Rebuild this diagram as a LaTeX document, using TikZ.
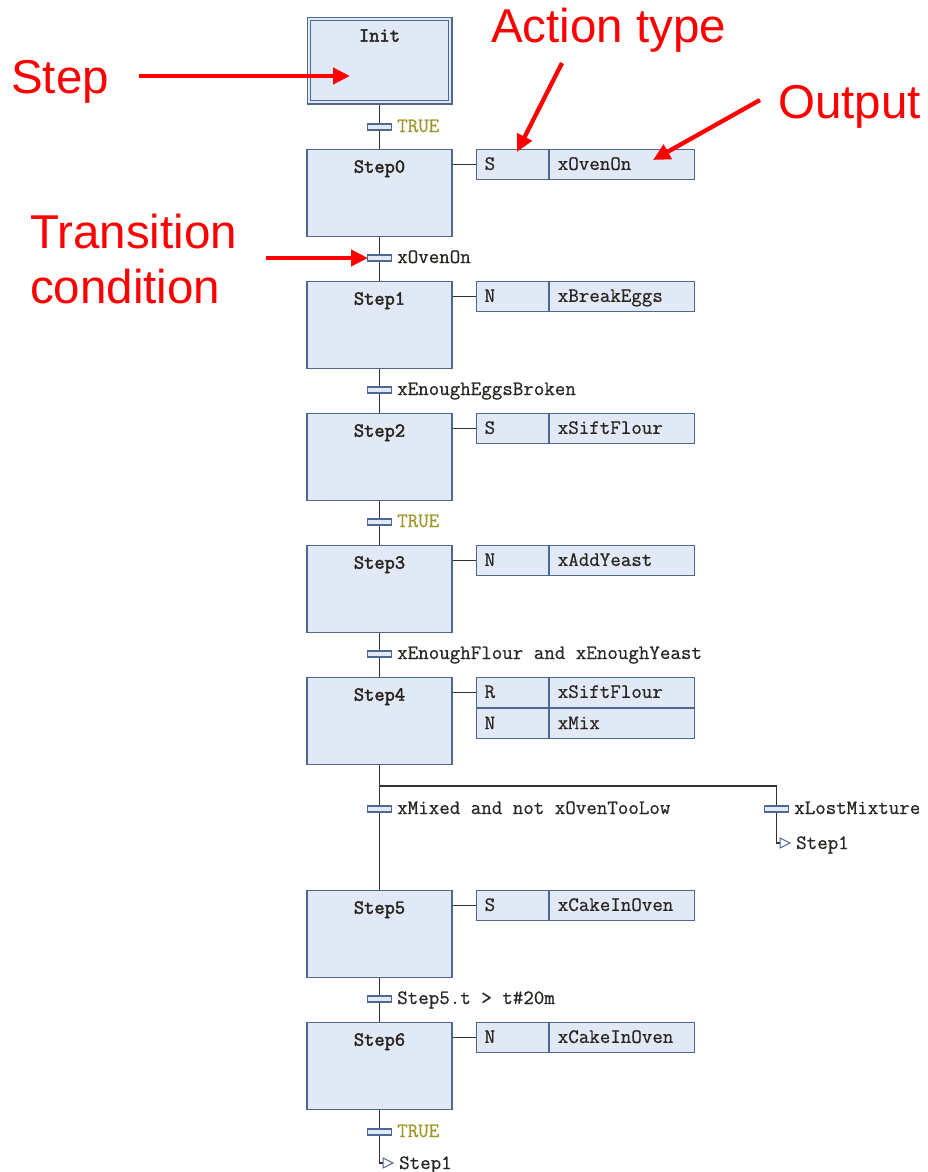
\documentclass[tikz,border=0pt]{standalone}
\usepackage{fontspec}
\newfontfamily\plcmono[FakeBold=0.7]{Latin Modern Mono}
\newfontfamily\plcmonobold[FakeBold=2.4]{Latin Modern Mono}
\newfontfamily\callfont{Liberation Sans}
\usetikzlibrary{arrows.meta,backgrounds,shapes.geometric}

\definecolor{stepfill}{RGB}{225,233,246}
\definecolor{stepedge}{RGB}{78,104,148}
\definecolor{wirecol}{RGB}{50,50,50}
\definecolor{plctext}{RGB}{42,38,34}
\definecolor{truetext}{RGB}{158,150,42}
\definecolor{callred}{RGB}{255,0,0}

\newcommand{\monofont}{\plcmono\fontsize{20.4}{22}\selectfont}
\newcommand{\monobold}{\plcmonobold\fontsize{19.9}{22}\selectfont}

\tikzset{
  x=1pt, y=-1pt,
  stepbox/.style={draw=stepedge, fill=stepfill, line width=1.3pt, inner sep=0pt,
    text width=145pt, align=center, text height=23pt, text depth=64pt,
    anchor=north, font=\monobold, text=plctext},
  initbox/.style={stepbox, line width=1.1pt, double=stepfill, double distance=2.2pt,
    text width=141.6pt, text height=22.8pt, text depth=60.8pt},
  acttype/.style={draw=stepedge, fill=stepfill, line width=1.2pt, inner xsep=8pt,
    inner ysep=0pt, text width=56pt, align=left, text height=20.3pt,
    text depth=9.7pt, anchor=north west, font=\monofont, text=plctext},
  actout/.style={acttype, text width=129pt},
  trbar/.style={draw=stepedge, fill=stepfill, line width=1.1pt, minimum width=24pt,
    minimum height=6pt, inner sep=0pt},
  cond/.style={anchor=base west, inner sep=0pt, font=\monofont, text=plctext},
  truecond/.style={cond, text=truetext},
  jumptri/.style={isosceles triangle, isosceles triangle apex angle=60,
    isosceles triangle stretches, minimum width=10pt, minimum height=10pt,
    inner sep=0pt, draw=stepedge, fill=white, line width=1pt, anchor=west},
  wire/.style={draw=wirecol, line width=1.3pt},
  callout/.style={anchor=base west, inner sep=0pt, text=callred,
    font=\callfont\fontsize{47.5}{55}\selectfont},
  callarrow/.style={draw=callred, line width=4.3pt,
    -{Triangle[length=17pt,width=16pt]}}
}

\begin{document}
\begin{tikzpicture}
\useasboundingbox (0,0) rectangle (927,1172);

% ---- steps ----
\node[initbox] (init) at (379.5,18.2) {Init};
\node[stepbox] (s0) at (379.5,149) {Step0};
\node[stepbox] (s1) at (379.5,281) {Step1};
\node[stepbox] (s2) at (379.5,413) {Step2};
\node[stepbox] (s3) at (379.5,545) {Step3};
\node[stepbox] (s4) at (379.5,677) {Step4};
\node[stepbox] (s5) at (379.5,890) {Step5};
\node[stepbox] (s6) at (379.5,1022) {Step6};

% ---- actions ----
\node[acttype] (a0t) at (476,149) {S};
\node[actout] (a0o) at (a0t.north east) {xOvenOn};
\node[acttype] (a1t) at (476,281) {N};
\node[actout] (a1o) at (a1t.north east) {xBreakEggs};
\node[acttype] (a2t) at (476,413) {S};
\node[actout] (a2o) at (a2t.north east) {xSiftFlour};
\node[acttype] (a3t) at (476,545) {N};
\node[actout] (a3o) at (a3t.north east) {xAddYeast};
\node[acttype] (a4t) at (476,677) {R};
\node[actout] (a4o) at (a4t.north east) {xSiftFlour};
\node[acttype] (a4u) at (a4t.south west) {N};
\node[actout] (a4p) at (a4u.north east) {xMix};
\node[acttype] (a5t) at (476,890) {S};
\node[actout] (a5o) at (a5t.north east) {xCakeInOven};
\node[acttype] (a6t) at (476,1022) {N};
\node[actout] (a6o) at (a6t.north east) {xCakeInOven};

% ---- transitions ----
\node[trbar] (t0) at (379.5,127) {};
\node[trbar] (t1) at (379.5,258) {};
\node[trbar] (t2) at (379.5,390) {};
\node[trbar] (t3) at (379.5,522) {};
\node[trbar] (t4) at (379.5,654) {};
\node[trbar] (t5) at (379.5,809) {};
\node[trbar] (tb) at (776.5,809) {};
\node[trbar] (t6) at (379.5,999) {};
\node[trbar] (t7) at (379.5,1132) {};

\node[truecond] (c0) at ([xshift=5pt,yshift=-5pt]t0.east) {TRUE};
\node[cond] (c1) at ([xshift=5pt,yshift=-5pt]t1.east) {xOvenOn};
\node[cond] (c2) at ([xshift=5pt,yshift=-5pt]t2.east) {xEnoughEggsBroken};
\node[truecond] (c3) at ([xshift=5pt,yshift=-5pt]t3.east) {TRUE};
\node[cond] (c4) at ([xshift=5pt,yshift=-5pt]t4.east) {xEnoughFlour and xEnoughYeast};
\node[cond] (c5) at ([xshift=5pt,yshift=-5pt]t5.east) {xMixed and not xOvenTooLow};
\node[cond] (cb) at ([xshift=5pt,yshift=-5pt]tb.east) {xLostMixture};
\node[cond] (c6) at ([xshift=5pt,yshift=-5pt]t6.east) {Step5.t > t\#20m};
\node[truecond] (c7) at ([xshift=5pt,yshift=-5pt]t7.east) {TRUE};

% ---- jumps ----
\node[jumptri] (j1) at (779.5,843) {};
\node[cond] (j1txt) at ([xshift=5pt,yshift=-6pt]j1.apex) {Step1};
\node[jumptri] (j2) at (382.5,1163) {};
\node[cond] (j2txt) at ([xshift=5pt,yshift=-6pt]j2.apex) {Step1};

\coordinate (fork) at (379.5,786);

% ---- connectors ----
\begin{pgfonlayer}{background}
  \draw[wire] (init.south) -- (s0.north);
  \draw[wire] (s0.south) -- (s1.north);
  \draw[wire] (s1.south) -- (s2.north);
  \draw[wire] (s2.south) -- (s3.north);
  \draw[wire] (s3.south) -- (s4.north);
  \draw[wire] (s4.south) -- (s5.north);
  \draw[wire] (s5.south) -- (s6.north);
  \draw[wire] (s6.south) |- (j2.west);
  \draw[wire] (fork) -| (tb.center) |- (j1.west);
  \foreach \s/\a in {s0/a0t, s1/a1t, s2/a2t, s3/a3t, s4/a4t, s5/a5t, s6/a6t}
    \draw[wire] (\a.west -| \s.east) -- (\a.west);
\end{pgfonlayer}

% ---- callouts ----
\node[callout] (lstep) at (11,93) {Step};
\node[callout] (ltrans) at (30,248) {Transition};
\node[callout] (lcond) at (30,303) {condition};
\node[callout] (lact) at (491,43) {Action type};
\node[callout] (lout) at (778,118) {Output};

\coordinate (stepfrom) at (139,76);
\coordinate (stepto) at (350,76);
\coordinate (transfrom) at (266,258);
\coordinate (transto) at (368,258);
\coordinate (actfrom) at (562,63);
\coordinate (actto) at (517,152);
\coordinate (outfrom) at (760,100);
\coordinate (outto) at (653,160);

\draw[callarrow] (stepfrom) -- (stepto);
\draw[callarrow] (transfrom) -- (transto);
\draw[callarrow] (actfrom) -- (actto);
\draw[callarrow] (outfrom) -- (outto);
\end{tikzpicture}
\end{document}
